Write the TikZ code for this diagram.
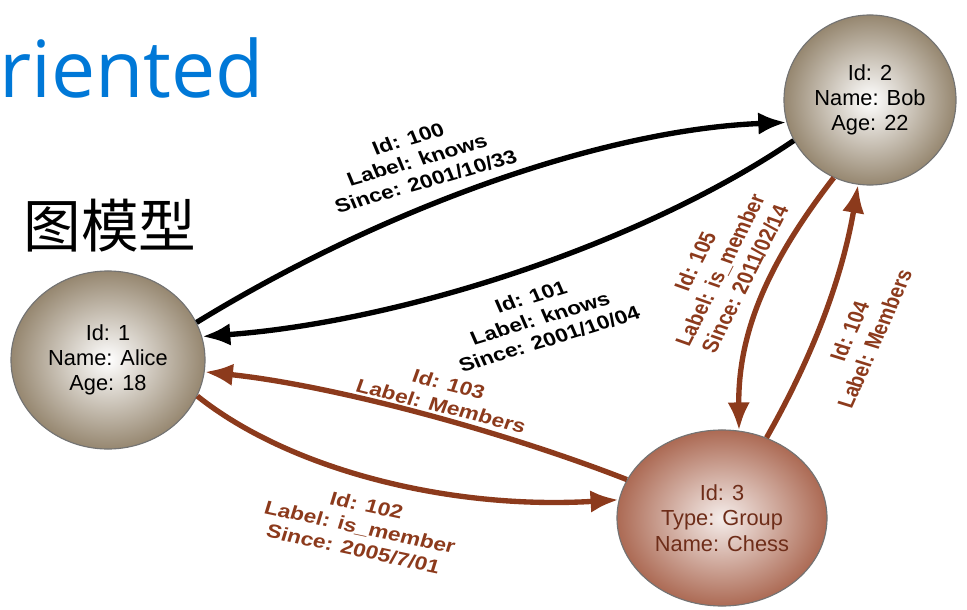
\documentclass[tikz,border=0pt]{standalone}
\usepackage{fontspec}
\setmainfont{Liberation Sans}
\newfontfamily\titlefont{Open Sans}
\newfontfamily\cjkfont{Noto Sans CJK SC}
\usetikzlibrary{shapes.geometric, arrows.meta, positioning}

\definecolor{titleblue}{RGB}{0,120,215}
\definecolor{personrim}{RGB}{150,135,112}
\definecolor{grouprim}{RGB}{172,106,84}
\definecolor{memberbrown}{RGB}{140,58,28}
\definecolor{grouptext}{RGB}{110,45,25}

\tikzset{
  vertex/.style={ellipse, inner sep=0pt, align=center, draw=black!55, line width=0.8pt,
    font=\fontsize{15.5}{18}\selectfont},
  person/.style={vertex, inner color=white, outer color=personrim},
  group/.style={vertex, inner color=white!88!grouprim, outer color=grouprim, text=grouptext},
  knows/.style={line width=3.8pt, black, -{Latex[length=20pt,width=16pt]}},
  member/.style={knows, memberbrown},
  elabel/.style={align=center, xscale=1.2, font=\fontsize{13.5}{16}\selectfont\bfseries}
}

\begin{document}
\begin{tikzpicture}[x=0.025cm,y=-0.025cm]
\useasboundingbox (0,0) rectangle (967,610);

% slide title and heading
\node[anchor=base west, inner sep=0pt, text=titleblue, font=\titlefont\fontsize{56}{56}\selectfont] (title) at (-1,98) {riented};
\node[inner sep=0pt, font=\cjkfont\fontsize{41}{41}\selectfont] (heading) at (110,226) {图模型};

% vertices
\node[person, minimum width=4.85cm, minimum height=4.45cm] (alice) at (108,360) {Id: 1\\Name: Alice\\Age: 18};
\node[person, minimum width=4.3cm, minimum height=4.25cm] (bob) at (870,100) {Id: 2\\Name: Bob\\Age: 22};
\node[group, minimum width=5.25cm, minimum height=4.4cm] (chess) at (722,518) {Id: 3\\Type: Group\\Name: Chess};

% knows edges
\draw[knows] (alice.23) .. controls (380,210) and (600,130) .. (bob.195);
\draw[knows] (bob.208) .. controls (640,245) and (400,322) .. (alice.14);
\node[elabel, rotate=19] (l100) at (417,160) {Id: 100\\Label: knows\\Since: 2001/10/33};
\node[elabel, rotate=20] (l101) at (540,318) {Id: 101\\Label: knows\\Since: 2001/10/04};

% membership edges
\draw[member] (chess.158) .. controls (500,430) and (330,385) .. (alice.-7);
\draw[member] (alice.-22) .. controls (290,470) and (450,510) .. (chess.170);
\draw[member] (bob.245) .. controls (770,260) and (738,330) .. (chess.79);
\draw[member] (chess.61) .. controls (805,370) and (840,290) .. (bob.262);
\node[elabel, rotate=-16.6, text=memberbrown] (l103) at (445,395) {Id: 103\\Label: Members};
\node[elabel, rotate=-14.3, text=memberbrown] (l102) at (360,527) {Id: 102\\Label: is\_member\\Since: 2005/7/01};
\node[elabel, rotate=67, text=memberbrown] (l105) at (720,270) {Id: 105\\Label: is\_member\\Since: 2011/02/14};
\node[elabel, rotate=69.6, text=memberbrown] (l104) at (862,335) {Id: 104\\Label: Members};
\end{tikzpicture}
\end{document}
